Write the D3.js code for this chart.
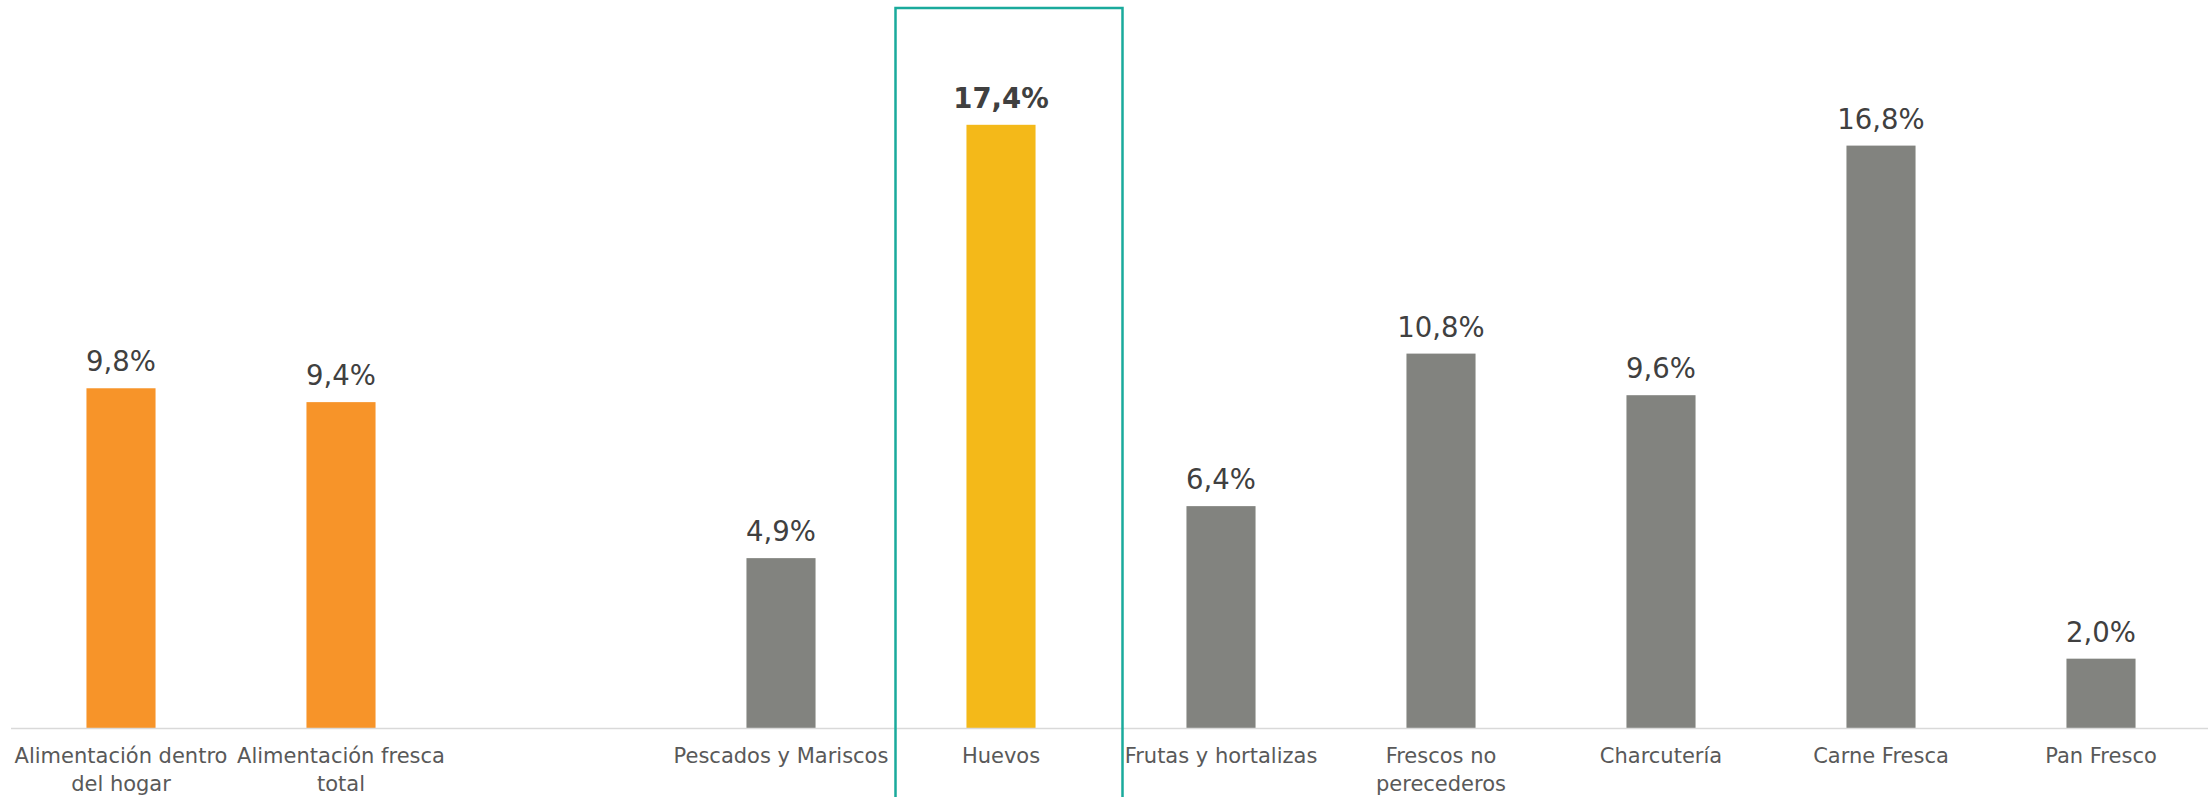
<!DOCTYPE html>
<html>
<head>
<meta charset="utf-8">
<script src="https://cdn.jsdelivr.net/npm/d3@7"></script>
<style>
  html, body { margin: 0; padding: 0; background: #ffffff; }
  svg { display: block; }
</style>
</head>
<body>
<svg id="chart" width="2210" height="797"></svg>
<script>
// ---- data ----
const categories = [
  "Alimentación dentro del hogar",
  "Alimentación fresca total",
  "",
  "Pescados y Mariscos",
  "Huevos",
  "Frutas y hortalizas",
  "Frescos no perecederos",
  "Charcutería",
  "Carne Fresca",
  "Pan Fresco"
];
const tickLines = [
  ["Alimentación dentro", "del hogar"],
  ["Alimentación fresca", "total"],
  [],
  ["Pescados y Mariscos"],
  ["Huevos"],
  ["Frutas y hortalizas"],
  ["Frescos no", "perecederos"],
  ["Charcutería"],
  ["Carne Fresca"],
  ["Pan Fresco"]
];
const values = [9.8, 9.4, null, 4.9, 17.4, 6.4, 10.8, 9.6, 16.8, 2.0];
const groups = ["total", "total", "none", "cat", "highlight", "cat", "cat", "cat", "cat", "cat"];
const highlighted = "Huevos";

// ---- styles ----
const colors = { total: "#F79429", highlight: "#F4B919", cat: "#82837F", none: "none" };
const fontFamily = "'DejaVu Sans', Verdana, sans-serif";

const W = 2210, H = 797;
const svg = d3.select("#chart");

const x = d3.scaleBand().domain(d3.range(categories.length)).range([11, 2211]).padding(0);
const y = d3.scaleLinear().domain([0, 21]).range([728, 0]);
const barW = x.bandwidth() * 0.314;

const data = categories.map((c, i) => ({ i, c, v: values[i], g: groups[i], lines: tickLines[i] }));

// bars
svg.append("g").selectAll("rect")
  .data(data.filter(d => d.v != null))
  .join("rect")
  .attr("x", d => x(d.i) + x.bandwidth() / 2 - barW / 2)
  .attr("width", barW)
  .attr("y", d => y(d.v))
  .attr("height", d => y(0) - y(d.v))
  .attr("fill", d => colors[d.g]);

// axis baseline
svg.append("line")
  .attr("x1", 11).attr("x2", 2208)
  .attr("y1", y(0) + 0.5).attr("y2", y(0) + 0.5)
  .attr("stroke", "#D9D9D9").attr("stroke-width", 1.5);

// value labels
svg.append("g").selectAll("text")
  .data(data.filter(d => d.v != null))
  .join("text")
  .attr("x", d => x(d.i) + x.bandwidth() / 2)
  .attr("y", d => y(d.v) - 17)
  .attr("text-anchor", "middle")
  .attr("font-family", fontFamily)
  .attr("font-size", 27.5)
  .attr("font-weight", d => d.c === highlighted ? "bold" : "normal")
  .attr("fill", "#404040")
  .text(d => d3.format(".1f")(d.v).replace(".", ",") + "%");

// category labels
const lab = svg.append("g").selectAll("text")
  .data(data)
  .join("text")
  .attr("text-anchor", "middle")
  .attr("font-family", fontFamily)
  .attr("font-size", 21)
  .attr("fill", "#595959")
  .attr("transform", d => `translate(${x(d.i) + x.bandwidth() / 2},${y(0) + 35})`);
lab.selectAll("tspan")
  .data(d => d.lines)
  .join("tspan")
  .attr("x", 0)
  .attr("dy", (d, k) => k === 0 ? 0 : 28)
  .text(d => d);

// highlight box
const hi = categories.indexOf(highlighted);
const hc = x(hi) + x.bandwidth() / 2;
svg.append("path")
  .attr("d", `M${hc - 105.5},${H + 5} V8 H${hc + 121.5} V${H + 5}`)
  .attr("fill", "none")
  .attr("stroke", "#1AAA9C")
  .attr("stroke-width", 2.5);
</script>
</body>
</html>
